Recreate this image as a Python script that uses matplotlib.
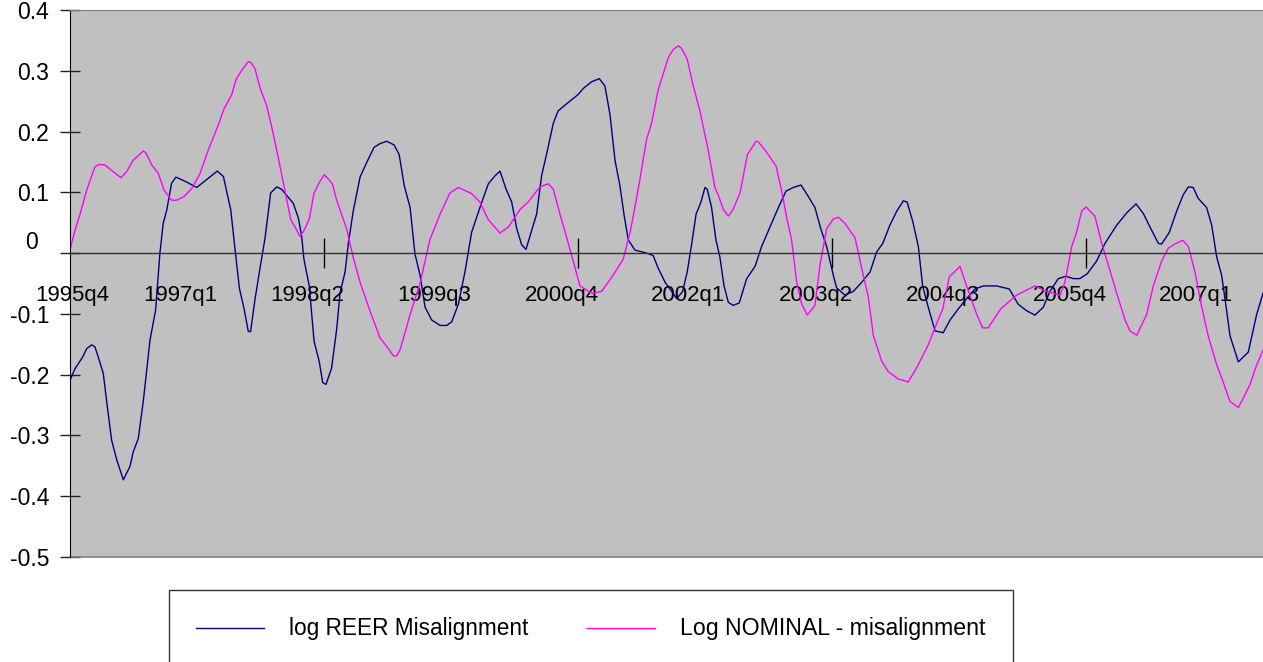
import matplotlib
matplotlib.use("Agg")
import matplotlib.pyplot as plt

plt.rcParams["font.family"] = ["Liberation Sans", "DejaVu Sans"]

# time axis in quarters counted from 1995q4
REER_T = [
    0.0, 0.20, 0.50, 0.66, 0.85, 0.98, 1.15, 1.31, 1.47, 1.64, 1.84, 2.10,
    2.36, 2.49, 2.69, 2.89, 3.15, 3.37, 3.54, 3.67, 3.81, 4.00, 4.17, 4.59,
    4.99, 5.38, 5.80, 6.04, 6.33, 6.50, 6.67, 6.85, 7.02, 7.11, 7.28, 7.48,
    7.68, 7.90, 8.14, 8.33, 8.79, 8.99, 9.12, 9.21, 9.42, 9.61, 9.81, 9.95,
    10.08, 10.30, 10.50, 10.63, 10.83, 10.96, 11.15, 11.42, 11.68, 11.97, 12.20, 12.47,
    12.76, 12.96, 13.16, 13.39, 13.58, 13.78, 13.98, 14.24, 14.57, 14.83, 15.03, 15.29,
    15.55, 15.81, 16.14, 16.47, 16.73, 16.93, 17.17, 17.39, 17.59, 17.78, 17.95, 18.11,
    18.37, 18.57, 18.77, 19.03, 19.22, 19.56, 20.01, 20.21, 20.54, 20.84, 21.06, 21.26,
    21.46, 21.65, 21.81, 21.98, 22.24, 22.70, 22.96, 23.16, 23.43, 23.69, 23.89, 24.12,
    24.30, 24.48, 24.65, 24.84, 25.00, 25.09, 25.26, 25.43, 25.59, 25.75, 25.92, 26.11,
    26.35, 26.64, 26.97, 27.23, 27.56, 27.89, 28.19, 28.48, 28.78, 29.07, 29.33, 29.56,
    29.79, 30.05, 30.18, 30.51, 30.84, 31.17, 31.50, 31.76, 32.00, 32.28, 32.55, 32.81,
    32.96, 33.18, 33.40, 33.57, 33.79, 34.06, 34.38, 34.65, 34.97, 35.30, 35.63, 35.96,
    36.48, 36.98, 37.33, 37.67, 37.99, 38.32, 38.58, 38.91, 39.21, 39.50, 39.76, 40.05,
    40.42, 40.75, 41.21, 41.60, 41.97, 42.26, 42.52, 42.85, 42.98, 43.28, 43.57, 43.83,
    44.03, 44.22, 44.42, 44.75, 44.95, 45.15, 45.34, 45.54, 45.67, 46.00, 46.19, 46.39,
    46.56, 46.72, 46.97,
]
REER_VAL = [
    -0.209, -0.190, -0.171, -0.157, -0.151, -0.154, -0.176, -0.198, -0.253, -0.308, -0.340, -0.373,
    -0.351, -0.327, -0.305, -0.242, -0.143, -0.094, 0.000, 0.049, 0.071, 0.115, 0.125, 0.117,
    0.108, 0.121, 0.135, 0.126, 0.071, 0.005, -0.058, -0.091, -0.129, -0.129, -0.077, -0.025,
    0.025, 0.099, 0.109, 0.105, 0.082, 0.058, 0.028, -0.010, -0.054, -0.145, -0.178, -0.213,
    -0.216, -0.189, -0.125, -0.066, -0.031, 0.016, 0.069, 0.125, 0.149, 0.174, 0.180, 0.184,
    0.178, 0.162, 0.111, 0.075, -0.001, -0.036, -0.089, -0.110, -0.119, -0.119, -0.113, -0.084,
    -0.031, 0.034, 0.075, 0.114, 0.127, 0.135, 0.105, 0.084, 0.040, 0.014, 0.006, 0.028,
    0.064, 0.128, 0.164, 0.214, 0.234, 0.246, 0.261, 0.271, 0.282, 0.287, 0.275, 0.228,
    0.152, 0.111, 0.064, 0.022, 0.005, 0.000, -0.004, -0.025, -0.048, -0.063, -0.075, -0.063,
    -0.031, 0.016, 0.064, 0.084, 0.108, 0.105, 0.075, 0.022, -0.007, -0.054, -0.081, -0.086,
    -0.082, -0.042, -0.022, 0.011, 0.043, 0.075, 0.102, 0.108, 0.112, 0.093, 0.075, 0.040,
    0.011, -0.036, -0.057, -0.069, -0.063, -0.048, -0.031, 0.002, 0.016, 0.046, 0.069, 0.086,
    0.084, 0.052, 0.011, -0.054, -0.089, -0.128, -0.131, -0.110, -0.092, -0.075, -0.059, -0.054,
    -0.054, -0.059, -0.084, -0.095, -0.102, -0.089, -0.063, -0.042, -0.038, -0.042, -0.042, -0.034,
    -0.013, 0.016, 0.046, 0.066, 0.081, 0.065, 0.043, 0.016, 0.015, 0.034, 0.069, 0.096,
    0.109, 0.108, 0.090, 0.075, 0.046, -0.007, -0.036, -0.095, -0.136, -0.179, -0.171, -0.163,
    -0.131, -0.101, -0.066,
]

NOMINAL_T = [
    0.0, 0.20, 0.39, 0.66, 0.98, 1.15, 1.38, 1.70, 2.01, 2.23, 2.47, 2.89,
    2.99, 3.22, 3.48, 3.70, 4.00, 4.20, 4.49, 4.79, 5.12, 5.44, 5.84, 6.06,
    6.37, 6.54, 6.78, 7.02, 7.11, 7.28, 7.48, 7.74, 7.94, 8.14, 8.40, 8.69,
    8.86, 9.06, 9.21, 9.42, 9.61, 9.81, 10.01, 10.17, 10.33, 10.50, 10.89, 11.15,
    11.42, 11.81, 12.20, 12.53, 12.73, 12.86, 12.99, 13.19, 13.39, 13.78, 14.17, 14.57,
    14.96, 15.29, 15.81, 16.14, 16.47, 16.93, 17.26, 17.72, 18.04, 18.50, 18.83, 19.03,
    19.29, 19.56, 19.81, 20.08, 20.54, 20.93, 21.39, 21.78, 22.05, 22.24, 22.44, 22.70,
    22.90, 23.16, 23.56, 23.75, 23.95, 24.08, 24.30, 24.54, 24.80, 25.13, 25.39, 25.52,
    25.72, 25.92, 26.11, 26.38, 26.67, 27.01, 27.10, 27.43, 27.80, 28.02, 28.22, 28.41,
    28.61, 28.81, 29.03, 29.33, 29.53, 29.79, 30.05, 30.25, 30.51, 30.91, 31.17, 31.43,
    31.63, 31.96, 32.22, 32.61, 33.00, 33.33, 33.79, 34.12, 34.36, 34.62, 35.04, 35.30,
    35.70, 35.93, 36.15, 36.64, 37.27, 37.99, 38.45, 38.98, 39.17, 39.44, 39.63, 39.83,
    40.00, 40.35, 40.62, 40.94, 41.21, 41.54, 41.73, 42.00, 42.39, 42.65, 42.98, 43.24,
    43.50, 43.81, 44.03, 44.29, 44.56, 44.81, 45.15, 45.41, 45.67, 46.00, 46.19, 46.46,
    46.72, 46.97,
]
NOMINAL_VAL = [
    0.006, 0.038, 0.063, 0.104, 0.142, 0.146, 0.145, 0.134, 0.124, 0.134, 0.152, 0.168,
    0.165, 0.145, 0.131, 0.104, 0.087, 0.087, 0.093, 0.106, 0.131, 0.169, 0.211, 0.237,
    0.261, 0.286, 0.302, 0.315, 0.314, 0.304, 0.272, 0.243, 0.208, 0.169, 0.116, 0.055,
    0.043, 0.027, 0.037, 0.056, 0.099, 0.116, 0.129, 0.122, 0.114, 0.087, 0.040, -0.007,
    -0.048, -0.095, -0.139, -0.157, -0.169, -0.169, -0.160, -0.131, -0.101, -0.050, 0.022, 0.064,
    0.099, 0.108, 0.098, 0.084, 0.055, 0.033, 0.043, 0.072, 0.084, 0.109, 0.114, 0.105,
    0.064, 0.025, -0.013, -0.054, -0.066, -0.063, -0.036, -0.010, 0.034, 0.075, 0.122, 0.187,
    0.214, 0.269, 0.322, 0.335, 0.341, 0.337, 0.319, 0.275, 0.234, 0.169, 0.108, 0.096,
    0.072, 0.061, 0.072, 0.099, 0.162, 0.184, 0.183, 0.166, 0.143, 0.102, 0.058, 0.022,
    -0.048, -0.084, -0.102, -0.086, -0.019, 0.040, 0.056, 0.059, 0.049, 0.025, -0.025, -0.072,
    -0.136, -0.178, -0.195, -0.207, -0.212, -0.189, -0.151, -0.116, -0.092, -0.039, -0.022, -0.054,
    -0.101, -0.123, -0.123, -0.092, -0.069, -0.054, -0.063, -0.069, -0.048, 0.011, 0.034, 0.069,
    0.076, 0.061, 0.016, -0.028, -0.066, -0.110, -0.128, -0.135, -0.101, -0.054, -0.013, 0.008,
    0.015, 0.021, 0.011, -0.031, -0.089, -0.136, -0.184, -0.213, -0.244, -0.254, -0.239, -0.216,
    -0.184, -0.160,
]

QUARTER_LABELS = [
    "1995q4", "1997q1", "1998q2", "1999q3", "2000q4",
    "2002q1", "2003q2", "2004q3", "2005q4", "2007q1",
]
Y_TICKS = [-0.5, -0.4, -0.3, -0.2, -0.1, 0.0, 0.1, 0.2, 0.3, 0.4]
Y_TICK_LABELS = ["-0.5", "-0.4", "-0.3", "-0.2", "-0.1", "", "0.1", "0.2", "0.3", "0.4"]
MAJOR_TICKS = [10, 20, 30, 40]

REER_COLOR = "#000080"
NOMINAL_COLOR = "#ff00ff"

fig = plt.figure(figsize=(12.63, 6.62), dpi=100)
ax = fig.add_axes([70 / 1263, 1 - 557 / 662, 1193 / 1263, 547 / 662])
ax.set_facecolor("#c0c0c0")

reer_line, = ax.plot(REER_T, REER_VAL, color=REER_COLOR, lw=1.0)
nominal_line, = ax.plot(NOMINAL_T, NOMINAL_VAL, color=NOMINAL_COLOR, lw=1.0)

ax.set_xlim(0, 46.97)
ax.set_ylim(-0.5, 0.4)

# category axis sits on the zero line
ax.spines["bottom"].set_position(("data", 0))
ax.spines["bottom"].set_color("#333333")
ax.spines["bottom"].set_linewidth(1.0)
ax.spines["top"].set_color("#808080")
ax.spines["right"].set_visible(False)
ax.spines["left"].set_color("black")
ax.plot([0, 1], [0, 0], transform=ax.transAxes, color="#808080", lw=1.2, clip_on=False)

label_pos = [0.1] + [5 * k - 0.65 for k in range(1, len(QUARTER_LABELS))]
ax.set_xticks(MAJOR_TICKS)
ax.set_xticklabels([])
ax.set_xticks(label_pos, minor=True)
ax.set_xticklabels(QUARTER_LABELS, minor=True)
ax.tick_params(axis="x", which="major", direction="inout", length=21, width=1, color="black")
ax.tick_params(axis="x", which="minor", length=0, pad=23, labelsize=16)

ax.set_yticks(Y_TICKS)
ax.set_yticklabels(Y_TICK_LABELS)
ax.tick_params(axis="y", direction="inout", length=15, width=1, color="#222222", pad=7.5, labelsize=16.5)
ax.text(-0.032, 0.018, "0", transform=ax.get_yaxis_transform(), ha="center", va="center", fontsize=16.5)

legend = fig.legend(
    [reer_line, nominal_line],
    ["log REER Misalignment", "Log NOMINAL - misalignment"],
    loc="center",
    bbox_to_anchor=(591 / 1263, 1 - 629 / 662),
    ncol=2,
    fontsize=16.3,
    frameon=True,
    fancybox=False,
    edgecolor="black",
    borderpad=1.2,
    handlelength=3.0,
    handletextpad=1.1,
    columnspacing=2.6,
)
legend.get_texts()[1].set_fontsize(16.7)

fig.savefig("out.png", dpi=100)
